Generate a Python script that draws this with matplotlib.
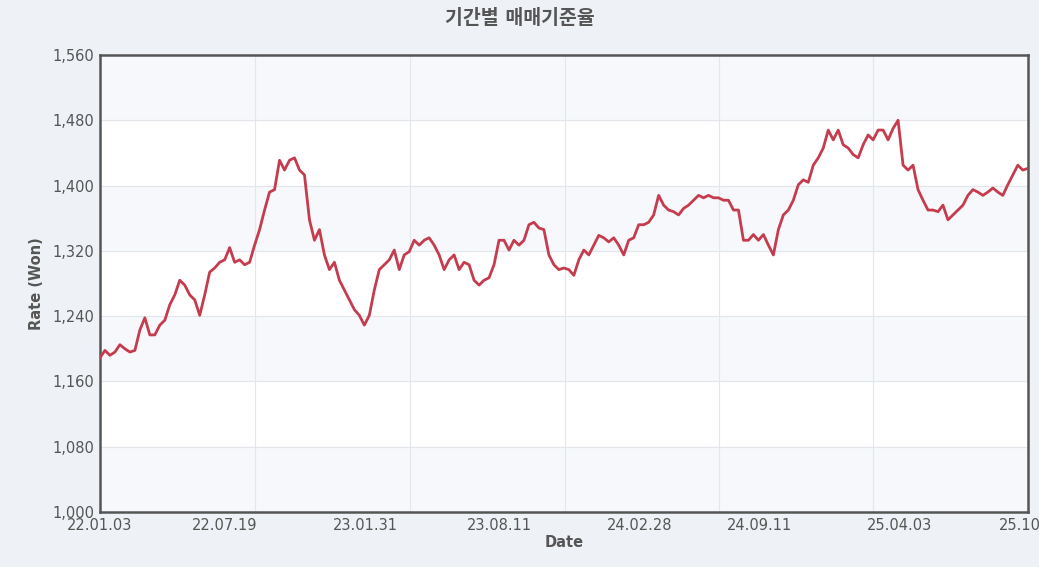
import numpy as np
import matplotlib.pyplot as plt

plt.rcParams['font.family'] = ['DejaVu Sans', 'Noto Sans CJK KR']

# approximate weekly rate (KRW per USD)
rate = [
    1189, 1198, 1192, 1196, 1205, 1200, 1196, 1198, 1223, 1238,
    1217, 1217, 1229, 1235, 1254, 1266, 1284, 1278, 1266, 1260,
    1241, 1266, 1294, 1299, 1306, 1309, 1324, 1306, 1309, 1303,
    1306, 1327, 1346, 1370, 1392, 1395, 1431, 1419, 1431, 1434,
    1419, 1413, 1358, 1333, 1346, 1315, 1297, 1306, 1284, 1272,
    1260, 1248, 1241, 1229, 1241, 1272, 1297, 1303, 1309, 1321,
    1297, 1315, 1319, 1333, 1327, 1333, 1336, 1327, 1315, 1297,
    1309, 1315, 1297, 1306, 1303, 1284, 1278, 1284, 1287, 1303,
    1333, 1333, 1321, 1333, 1327, 1333, 1352, 1355, 1348, 1346,
    1315, 1303, 1297, 1299, 1297, 1290, 1309, 1321, 1315, 1327,
    1339, 1336, 1331, 1336, 1327, 1315, 1333, 1336, 1352, 1352,
    1355, 1364, 1388, 1376, 1370, 1368, 1364, 1372, 1376, 1382,
    1388, 1385, 1388, 1385, 1385, 1382, 1382, 1370, 1370, 1333,
    1333, 1340, 1333, 1340, 1327, 1315, 1346, 1364, 1370, 1382,
    1401, 1407, 1404, 1425, 1434, 1446, 1468, 1456, 1468, 1450,
    1446, 1438, 1434, 1450, 1462, 1456, 1468, 1468, 1456, 1470,
    1480, 1425, 1419, 1425, 1395, 1382, 1370, 1370, 1368, 1376,
    1358, 1364, 1370, 1376, 1388, 1395, 1392, 1388, 1392, 1397,
    1392, 1388, 1401, 1413, 1425, 1419, 1421,
]
tick_labels = ['22.01.03', '22.07.19', '23.01.31', '23.08.11', '24.02.28', '24.09.11', '25.04.03', '25.10']

fig = plt.figure(figsize=(10.39, 5.67), dpi=100)
fig.patch.set_facecolor('#eef2f6')
ax = fig.add_axes([0.0962, 0.097, 0.893, 0.806])
ax.set_facecolor('white')

n = len(rate)
x = np.arange(n)
span = (n - 1) / 928.0

# alternating horizontal bands
yt = np.arange(1000, 1561, 80)
for i in range(len(yt) - 1):
    if i % 2 == 0:
        ax.axhspan(yt[i], yt[i + 1], color='#f6f8fb', zorder=0)
    ax.axhline(yt[i], color='#e3e7ec', lw=0.8, zorder=0)
for px in [255, 410, 565, 719, 873]:
    ax.axvline((px - 100) * span, color='#e3e7ec', lw=0.8, zorder=0)

ax.plot(x, rate, color='#c43c4e', lw=2.0, zorder=3)

ax.set_xlim(0, n - 1)
ax.set_ylim(1000, 1560)
ax.set_yticks(yt)
ax.set_yticklabels([f'{v:,}' for v in yt])
lab_px = [100, 225, 365, 500, 640, 760, 900, 1020]
ax.set_xticks([(p - 100) * span for p in lab_px])
ax.set_xticklabels(tick_labels)
ax.tick_params(colors='#555555', labelsize=10.5, length=0, pad=4)
for s in ax.spines.values():
    s.set_color('#555555')
    s.set_linewidth(1.8)

ax.set_xlabel('Date', fontsize=10.5, fontweight='bold', color='#555555', labelpad=2)
ax.set_ylabel('Rate (Won)', fontsize=10.5, fontweight='bold', color='#555555', labelpad=6)
fig.suptitle('기간별 매매기준율', fontsize=14, fontweight='bold', color='#555555', y=0.985)

fig.savefig('out.png', dpi=100, facecolor=fig.get_facecolor())
